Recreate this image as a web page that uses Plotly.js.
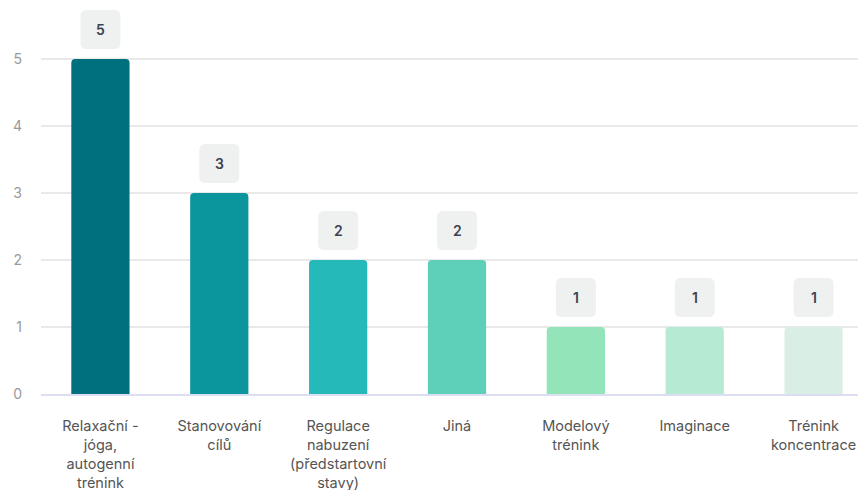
<!DOCTYPE html>
<html>
<head>
<meta charset="utf-8">
<script src="https://cdn.plot.ly/plotly-3.0.1.min.js"></script>
<style>
html,body{margin:0;padding:0;overflow:hidden;background:#fff;width:858px;height:490px;}
#chart{width:880px;height:490px;}
</style>
</head>
<body>
<div id="chart"></div>
<script>
const categories = [
  "Relaxační -<br>jóga,<br>autogenní<br>trénink",
  "Stanovování<br>cílů",
  "Regulace<br>nabuzení<br>(předstartovní<br>stavy)",
  "Jiná",
  "Modelový<br>trénink",
  "Imaginace",
  "Trénink<br>koncentrace"
];
const values = [5, 3, 2, 2, 1, 1, 1];
const barColors = ["#00707f", "#0b959d", "#25b9b9", "#5ecfb8", "#93e4b8", "#b7ead3", "#d9efe6"];
const yTicks = [0, 1, 2, 3, 4, 5];

const boxPath = "M -14,10 L 14,10 Q 20,10 20,16 L 20,43 Q 20,49 14,49 L -14,49 Q -20,49 -20,43 L -20,16 Q -20,10 -14,10 Z";

const shapes = values.map((v, i) => ({
  type: "path",
  xref: "x", yref: "y",
  xsizemode: "pixel", ysizemode: "pixel",
  xanchor: i, yanchor: v,
  path: boxPath,
  fillcolor: "#eff1f1",
  line: {width: 0},
  layer: "above"
}));

const annotations = values.map((v, i) => ({
  x: i, y: v, xref: "x", yref: "y",
  text: String(v),
  showarrow: false,
  yanchor: "middle",
  yshift: 29.5,
  font: {family: "Inter, sans-serif", size: 14, color: "#3b4150", weight: 600}
}));

const trace = {
  type: "bar",
  x: categories,
  y: values,
  width: 0.49,
  marker: {color: barColors, line: {width: 0}},
  hoverinfo: "none"
};

const layout = {
  width: 880, height: 490,
  margin: {l: 41, r: 7, t: 5, b: 96},
  paper_bgcolor: "#fff", plot_bgcolor: "#fff",
  showlegend: false,
  barcornerradius: 4,
  font: {family: "Inter, sans-serif"},
  xaxis: {
    type: "category",
    range: [-0.5, 6.5],
    showgrid: false,
    zeroline: false,
    showline: true,
    linecolor: "#dcdff2",
    linewidth: 2,
    ticks: "",
    ticklabelstandoff: 18,
    tickfont: {family: "Inter, sans-serif", size: 14.5, color: "#555"}
  },
  yaxis: {
    range: [0, 5.806],
    tickvals: yTicks,
    ticktext: yTicks.map(String),
    showgrid: true,
    gridcolor: "#e9e9e9",
    gridwidth: 1.5,
    zeroline: false,
    showline: false,
    ticks: "",
    ticklabelstandoff: 18,
    tickfont: {family: "Inter, sans-serif", size: 14, color: "#999"}
  },
  shapes: shapes,
  annotations: annotations
};

Plotly.newPlot("chart", [trace], layout, {displayModeBar: false, staticPlot: true});
</script>
</body>
</html>
